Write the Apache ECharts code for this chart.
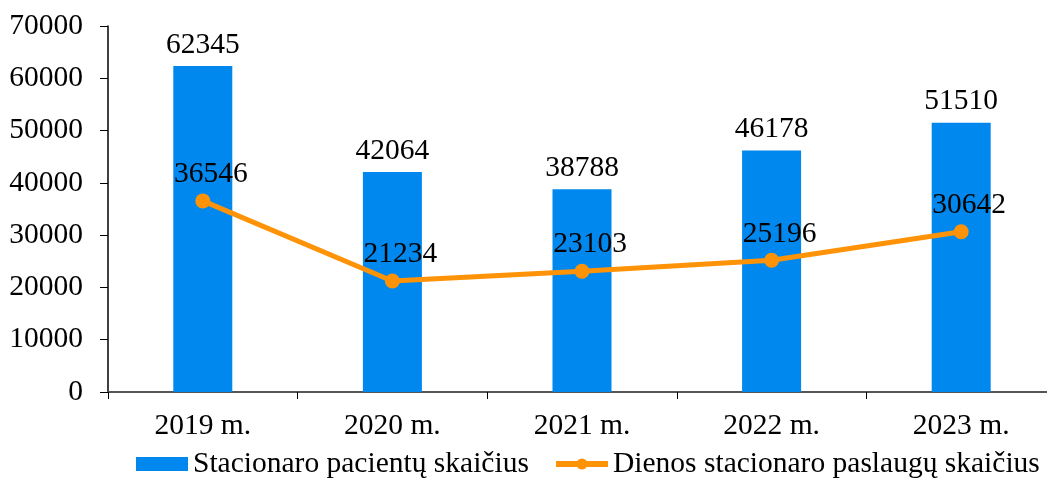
<!DOCTYPE html>
<html>
<head>
<meta charset="utf-8">
<script src="https://cdn.jsdelivr.net/npm/echarts@6/dist/echarts.min.js"></script>
<style>
  html, body { margin: 0; padding: 0; background: #fff; }
  #chart { width: 1047px; height: 481px; }
</style>
</head>
<body>
<div id="chart"></div>
<script>
// metai
const years = ['2019 m.', '2020 m.', '2021 m.', '2022 m.', '2023 m.'];
// stacionaro pacientai (stulpeliai)
const patients = [62345, 42064, 38788, 46178, 51510];
// dienos stacionaro paslaugos (linija)
const dayServices = [36546, 21234, 23103, 25196, 30642];
const seriesNames = ['Stacionaro pacientų skaičius', 'Dienos stacionaro paslaugų skaičius'];

const font = 'Liberation Serif, Times New Roman, serif';
const fs = 29.5;
var myChart = echarts.init(document.getElementById('chart'));

const legendBase = {
  bottom: -3,
  itemWidth: 52,
  itemHeight: 14,
  textStyle: { fontFamily: font, fontSize: fs, color: '#000' }
};

const option = {
  animation: false,
  textStyle: { fontFamily: font },
  grid: { left: 108, top: 26, width: 948, height: 366, containLabel: false, outerBoundsMode: 'none' },
  legend: [
    Object.assign({}, legendBase, {
      left: 131,
      data: [{ name: seriesNames[0], icon: 'rect' }]
    }),
    Object.assign({}, legendBase, {
      left: 548,
      data: [{ name: seriesNames[1], lineStyle: { width: 6 } }]
    })
  ],
  xAxis: {
    type: 'category',
    data: years,
    axisLine: { lineStyle: { color: '#555', width: 2 } },
    axisTick: { show: true, length: 7, lineStyle: { color: '#000' } },
    axisLabel: { fontFamily: font, fontSize: fs, color: '#000', margin: 19 }
  },
  yAxis: {
    type: 'value',
    min: 0,
    max: 70000,
    interval: 10000,
    splitLine: { show: false },
    axisLine: { show: true, lineStyle: { color: '#000', width: 1.5 } },
    axisTick: { show: true, length: 8, lineStyle: { color: '#000' } },
    axisLabel: {
      fontFamily: font, fontSize: fs, color: '#000', margin: 25,
      formatter: function (v) { return String(v); }
    }
  },
  series: [
    {
      name: seriesNames[0],
      type: 'bar',
      data: patients,
      barWidth: 59,
      itemStyle: { color: '#0088EE' },
      label: {
        show: true,
        position: 'top',
        distance: 6,
        fontFamily: font,
        fontSize: fs,
        color: '#000'
      }
    },
    {
      name: seriesNames[1],
      type: 'line',
      data: dayServices,
      symbol: 'circle',
      symbolSize: 15,
      lineStyle: { color: '#FF9307', width: 5 },
      itemStyle: { color: '#FF9307' },
      label: {
        show: true,
        position: 'top',
        distance: 4,
        offset: [8, 0],
        fontFamily: font,
        fontSize: fs,
        color: '#000'
      }
    }
  ]
};

myChart.setOption(option);
</script>
</body>
</html>
